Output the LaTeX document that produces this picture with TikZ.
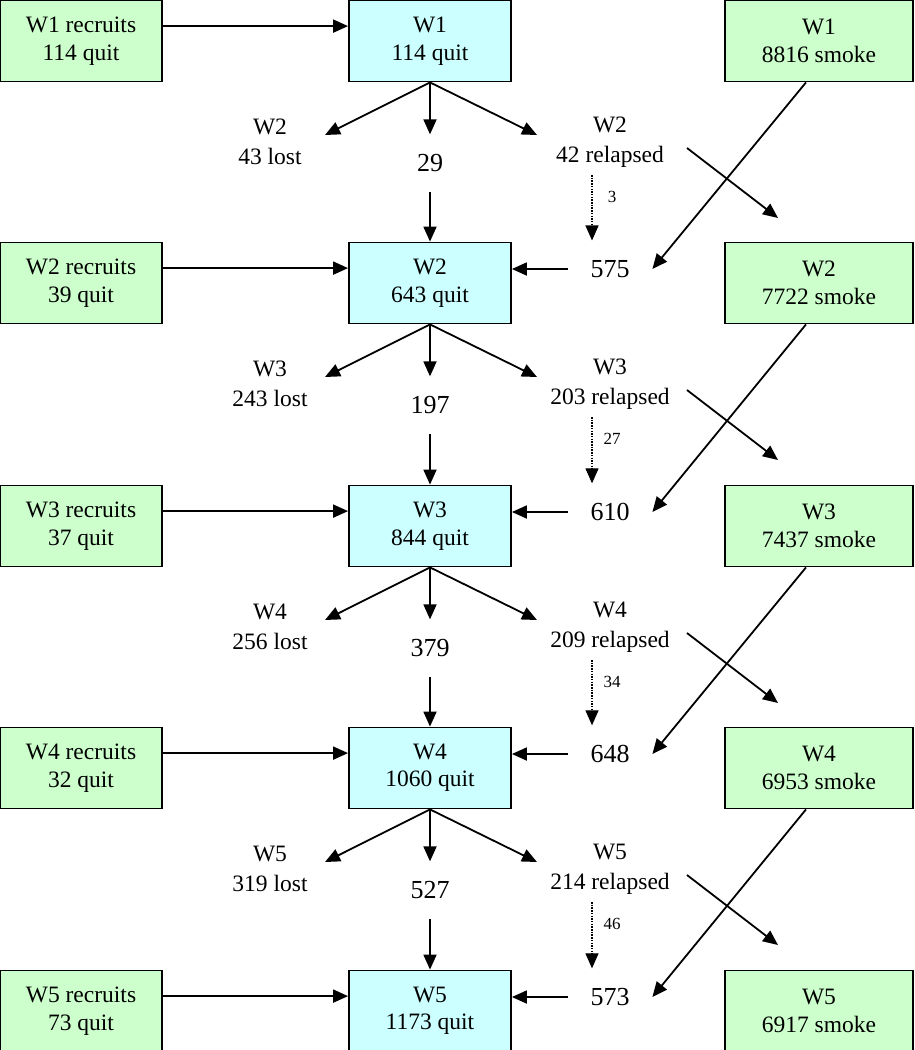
\documentclass[tikz,border=0pt]{standalone}
\usepackage{fontspec}
\setmainfont{Liberation Serif}
\usetikzlibrary{arrows.meta}
\definecolor{boxgreen}{HTML}{CCFFCC}
\definecolor{boxcyan}{HTML}{CCFFFF}
\begin{document}
\begin{tikzpicture}[x=1pt, y=-1pt, line width=1.8pt,
  >={Triangle[length=15pt, width=13pt]},
  greenbox/.style={draw, fill=boxgreen, minimum width=162pt, minimum height=81pt,
    inner sep=0pt, align=center, font=\fontsize{23.5}{27.5}\selectfont},
  cyanbox/.style={greenbox, fill=boxcyan},
  smokebox/.style={greenbox, minimum width=188pt},
  flowlabel/.style={inner sep=0pt, align=center, font=\fontsize{23.5}{30}\selectfont},
  numlabel/.style={inner xsep=22pt, inner ysep=19pt, font=\fontsize{26}{30}\selectfont},
  smalllabel/.style={inner sep=0pt, font=\fontsize{17}{20}\selectfont},
  backflow/.style={->, line width=1.2pt, dash pattern=on 1.5pt off 1.2pt}]
  \useasboundingbox (0,0) rectangle (914,1050);

  % 各回の箱
  \foreach \i/\rec/\q/\sm in {1/114/114/8816, 2/39/643/7722, 3/37/844/7437,
                               4/32/1060/6953, 5/73/1173/6917} {
    \pgfmathtruncatemacro{\T}{(\i-1)*242.5}
    \node[greenbox] (rec\i) at (81, \T+41) {W\i{} recruits\\\rec{} quit};
    \node[cyanbox] (quit\i) at (430, \T+41) {W\i\\\q{} quit};
    \node[smokebox] (smoke\i) at (819, \T+41) {W\i\\\sm{} smoke};
    % 新規参加者
    \draw[->] ([yshift=-26.5pt]rec\i.north east) -- ([yshift=-26.5pt]quit\i.north west);
  }

  % 回と回の間の流れ
  \foreach \i/\j/\lost/\stay/\rel/\back/\inflow in {1/2/43/29/42/3/575,
      2/3/243/197/203/27/610, 3/4/256/379/209/34/648, 4/5/319/527/214/46/573} {
    \pgfmathtruncatemacro{\T}{(\i-1)*242.5}
    \pgfmathtruncatemacro{\U}{\i*242.5}
    \node[flowlabel] (lost\i) at (270, \T+142) {W\j\\\lost{} lost};
    \node[numlabel] (stay\i) at (430, \T+163) {\stay};
    \node[flowlabel] (rel\i) at (610, \T+142) {W\j\\\rel{} relapsed};
    \node[smalllabel] (back\i) at (612, \T+197) {\back};
    \node[numlabel] (in\j) at (610, \U+27) {\inflow};

    % 矢印の端点
    \coordinate (lostend\i) at (325, \T+135);
    \coordinate (relend\i) at (537, \T+135);
    \coordinate (relfrom\i) at (687, \T+148);
    \coordinate (smokeend\i) at (778, \T+218);
    \coordinate (backfrom\i) at (592, \T+175);

    \draw[->] (quit\i.south) -- (lostend\i);
    \draw[->] (quit\i.south) -- (stay\i.north);
    \draw[->] (quit\i.south) -- (relend\i);
    \draw[->] (stay\i.south) -- (quit\j.north);
    \draw[backflow] (backfrom\i) -- (backfrom\i |- in\j.north);
    \draw[->] (relfrom\i) -- (smokeend\i);
    \draw[->] ([xshift=-13pt]smoke\i.south) -- (in\j.east);
    \draw[->] (in\j.west) -- (in\j.west -| quit\j.east);
  }
\end{tikzpicture}
\end{document}
